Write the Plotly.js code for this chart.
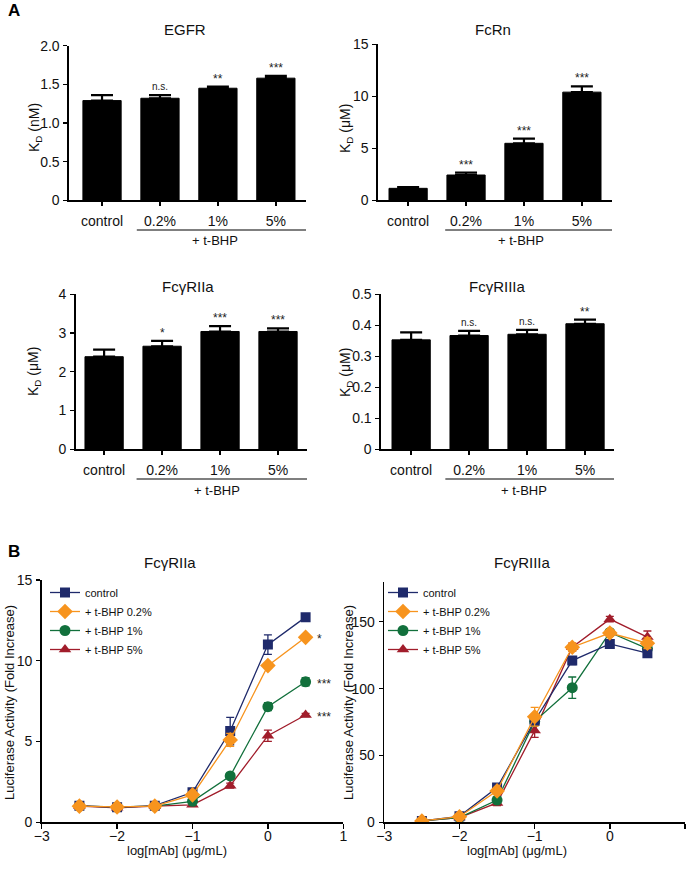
<!DOCTYPE html>
<html>
<head>
<meta charset="utf-8">
<script src="https://cdn.plot.ly/plotly-3.0.1.min.js"></script>
<style>html,body{margin:0;padding:0;background:#fff;}#chart{width:689px;height:877px;}</style>
</head>
<body>
<div id="chart"></div>
<script>
// ---------- DATA ----------
const categories = ['control', '0.2%', '1%', '5%'];

const egfrKd = [1.29, 1.32, 1.45, 1.58];
const egfrErr = [0.07, 0.04, 0.02, 0.03];
const egfrSig = ['', 'n.s.', '**', '***'];

const fcrnKd = [1.15, 2.43, 5.48, 10.4];
const fcrnErr = [0.12, 0.23, 0.45, 0.55];
const fcrnSig = ['', '***', '***', '***'];

const fcgr2aKd = [2.39, 2.66, 3.04, 3.04];
const fcgr2aErr = [0.18, 0.14, 0.14, 0.08];
const fcgr2aSig = ['', '*', '***', '***'];

const fcgr3aKd = [0.353, 0.367, 0.371, 0.405];
const fcgr3aErr = [0.024, 0.015, 0.014, 0.013];
const fcgr3aSig = ['', 'n.s.', 'n.s.', '**'];

const logDose = [-2.5, -2, -1.5, -1, -0.5, 0, 0.5];
const seriesNames = ['control', '+ t-BHP 0.2%', '+ t-BHP 1%', '+ t-BHP 5%'];

const luc2aControl = [1.03, 0.93, 1.03, 1.86, 5.65, 11.0, 12.7];
const luc2aControlErr = [0.1, 0.1, 0.1, 0.15, 0.85, 0.6, 0.15];
const luc2a02 = [1.0, 0.95, 1.0, 1.7, 5.1, 9.7, 11.45];
const luc2a02Err = [0.1, 0.1, 0.1, 0.15, 0.4, 0.15, 0.15];
const luc2a1 = [1.0, 0.95, 1.0, 1.3, 2.87, 7.16, 8.7];
const luc2a1Err = [0.05, 0.05, 0.05, 0.1, 0.15, 0.25, 0.25];
const luc2a5 = [1.0, 0.9, 1.0, 1.08, 2.27, 5.36, 6.64];
const luc2a5Err = [0.05, 0.05, 0.05, 0.1, 0.15, 0.35, 0.1];
const luc2aSig = ['', '*', '***', '***'];

const luc3aControl = [1, 4.5, 26, 76, 121, 133.4, 126.5];
const luc3aControlErr = [0.5, 1, 2, 3, 3, 2, 2];
const luc3a02 = [1, 4.2, 23.5, 79, 131, 141.6, 134];
const luc3a02Err = [0.5, 1, 2, 7, 3, 2, 4];
const luc3a1 = [1, 3.5, 16.6, 75.5, 100.7, 142, 130];
const luc3a1Err = [0.5, 1, 2, 3, 8, 2, 3];
const luc3a5 = [1, 3.5, 14.5, 68.6, 131, 152, 138.6];
const luc3a5Err = [0.5, 1, 2, 5, 3, 2, 4.5];

const colors = ['#1f2a6b', '#f7941e', '#12703c', '#a11d2b'];
const symbols = ['square', 'diamond', 'circle', 'triangle-up'];
const markerSizes = [10, 12, 11, 11];

// ---------- LAYOUT HELPERS ----------
const W = 689, H = 877;
const FONT = 'Liberation Sans Narrow, Arial Narrow, Liberation Sans, Arial, sans-serif';
const xd = (a, b) => [a / W, b / W];
const yd = (top, bottom) => [1 - bottom / H, 1 - top / H];
const px = (x) => x / W;
const py = (y) => 1 - y / H;

const traces = [];
const annotations = [];
const shapes = [];

function barPanel(idx, vals, errs, sig) {
  const xa = 'x' + (idx === 1 ? '' : idx), ya = 'y' + (idx === 1 ? '' : idx);
  traces.push({
    type: 'bar', x: categories, y: vals, xaxis: xa, yaxis: ya,
    width: 0.66, showlegend: false,
    marker: {color: '#000', line: {color: '#000', width: 1}},
    error_y: {type: 'data', array: errs, arrayminus: errs.map(() => 0), symmetric: false,
              color: '#000', thickness: 2.2, width: 11}
  });
  sig.forEach((s, i) => {
    if (!s) return;
    annotations.push({
      xref: xa, yref: ya, x: categories[i], y: vals[i] + errs[i], text: s,
      showarrow: false, yanchor: 'bottom', yshift: s === 'n.s.' ? 1 : -1,
      font: {family: FONT, size: s === 'n.s.' ? 10 : 12, color: '#222'}
    });
  });
}

barPanel(1, egfrKd, egfrErr, egfrSig);
barPanel(2, fcrnKd, fcrnErr, fcrnSig);
barPanel(3, fcgr2aKd, fcgr2aErr, fcgr2aSig);
barPanel(4, fcgr3aKd, fcgr3aErr, fcgr3aSig);

const lucA = [[luc2aControl, luc2aControlErr], [luc2a02, luc2a02Err], [luc2a1, luc2a1Err], [luc2a5, luc2a5Err]];
const lucB = [[luc3aControl, luc3aControlErr], [luc3a02, luc3a02Err], [luc3a1, luc3a1Err], [luc3a5, luc3a5Err]];

// draw order so that orange is on top as in the reference
const order = [3, 2, 0, 1];
function curvePanel(idx, data, legendName) {
  const xa = 'x' + idx, ya = 'y' + idx;
  order.forEach(k => {
    traces.push({
      type: 'scatter', mode: 'lines+markers', x: logDose, y: data[k][0],
      xaxis: xa, yaxis: ya, name: seriesNames[k], legend: legendName,
      legendrank: k + 1,
      line: {color: colors[k], width: 1.3},
      marker: {color: colors[k], symbol: symbols[k], size: markerSizes[k]},
      error_y: {type: 'data', array: data[k][1], color: colors[k], thickness: 1.3, width: 4}
    });
  });
}
curvePanel(5, lucA, 'legend');
curvePanel(6, lucB, 'legend2');

// significance stars for panel B left
[luc2a02, luc2a1, luc2a5].forEach((arr, j) => {
  annotations.push({
    xref: 'x5', yref: 'y5', x: logDose[6], y: arr[6], text: luc2aSig[j + 1],
    showarrow: false, xanchor: 'left', xshift: 9, yshift: -2,
    font: {family: FONT, size: 12, color: '#222'}
  });
});

// ---------- AXES ----------
const baseAxis = {
  showline: true, linecolor: '#000', linewidth: 1.6, ticks: 'outside', ticklen: 4,
  tickwidth: 1.4, tickcolor: '#000', showgrid: false, zeroline: false,
  tickfont: {family: FONT, size: 14, color: '#111'}, fixedrange: true
};
function catX(domain, range, anchor) {
  return Object.assign({}, baseAxis, {domain: domain, range: range, anchor: anchor,
    type: 'category', ticklabelstandoff: 3});
}
function numY(domain, range, tickvals, ticktext, anchor) {
  return Object.assign({}, baseAxis, {domain: domain, range: range, anchor: anchor,
    tickvals: tickvals, ticktext: ticktext, ticklabelstandoff: 1});
}

const layout = {
  width: W, height: H, margin: {l: 0, r: 0, t: 0, b: 0},
  paper_bgcolor: '#fff', plot_bgcolor: 'rgba(0,0,0,0)', showlegend: true,
  font: {family: FONT, color: '#111'},
  bargap: 0.3,
  xaxis: catX(xd(69, 306), [-0.57, 3.52], 'y'),
  yaxis: numY(yd(45.7, 200.3), [0, 2], [0, 0.5, 1, 1.5, 2], ['0', '0.5', '1.0', '1.5', '2.0'], 'x'),
  xaxis2: catX(xd(378, 612), [-0.52, 3.52], 'y2'),
  yaxis2: numY(yd(44.3, 200.3), [0, 15], [0, 5, 10, 15], ['0', '5', '10', '15'], 'x2'),
  xaxis3: catX(xd(75.7, 307), [-0.49, 3.5], 'y3'),
  yaxis3: numY(yd(294.3, 449.3), [0, 4], [0, 1, 2, 3, 4], ['0', '1', '2', '3', '4'], 'x3'),
  xaxis4: catX(xd(381, 614), [-0.52, 3.5], 'y4'),
  yaxis4: numY(yd(294.3, 449.3), [0, 0.5], [0, 0.1, 0.2, 0.3, 0.4, 0.5], ['0', '0.1', '0.2', '0.3', '0.4', '0.5'], 'x4'),
  xaxis5: Object.assign({}, baseAxis, {domain: xd(41.7, 343.3), range: [-3, 1], anchor: 'y5',
    tickvals: [-3, -2, -1, 0, 1], ticklen: 5, ticklabelstandoff: -5}),
  yaxis5: numY(yd(580, 822.3), [0, 15], [0, 5, 10, 15], ['0', '5', '10', '15'], 'x5'),
  xaxis6: Object.assign({}, baseAxis, {domain: xd(384.3, 685), range: [-3, 1], anchor: 'y6',
    tickvals: [-3, -2, -1, 0, 1], ticklen: 5, ticklabelstandoff: -5}),
  yaxis6: numY(yd(581.7, 822.3), [0, 180], [0, 50, 100, 150], ['0', '50', '100', '150'], 'x6'),
  legend: {x: px(45), y: py(578), xanchor: 'left', yanchor: 'top', bgcolor: 'rgba(0,0,0,0)',
    font: {family: FONT, size: 11, color: '#111'}, tracegroupgap: 0, traceorder: 'normal'},
  legend2: {x: px(383), y: py(578), xanchor: 'left', yanchor: 'top', bgcolor: 'rgba(0,0,0,0)',
    font: {family: FONT, size: 11, color: '#111'}, tracegroupgap: 0, traceorder: 'normal'},
  annotations: annotations,
  shapes: shapes
};

function txt(x, y, text, size, opts) {
  annotations.push(Object.assign({xref: 'paper', yref: 'paper', x: px(x), y: py(y), text: text,
    showarrow: false, xanchor: 'center', yanchor: 'middle',
    font: {family: FONT, size: size, color: '#111'}}, opts || {}));
}

// panel letters
txt(14, 11, '<b>A</b>', 17, {font: {family: 'Liberation Sans, Arial, sans-serif', size: 17, color: '#000'}});
txt(14, 551, '<b>B</b>', 17, {font: {family: 'Liberation Sans, Arial, sans-serif', size: 17, color: '#000'}});

// subplot titles
txt(185, 30, 'EGFR', 15);
txt(493, 30, 'FcRn', 15);
txt(188, 287, 'FcγRIIa', 15);
txt(497, 287, 'FcγRIIIa', 15);
txt(170, 562, 'FcγRIIa', 15);
txt(522, 562, 'FcγRIIIa', 15);

// y-axis titles
txt(35, 128, 'K<sub>D</sub> (nM)', 14, {textangle: -90});
txt(346, 128, 'K<sub>D</sub> (μM)', 14, {textangle: -90});
txt(34, 372, 'K<sub>D</sub> (μM)', 14, {textangle: -90});
txt(346, 372, 'K<sub>D</sub> (μM)', 14, {textangle: -90});
txt(9, 703, 'Luciferase Activity (Fold Increase)', 13, {textangle: -90});
txt(348, 703, 'Luciferase Activity (Fold Increase)', 13, {textangle: -90});

// x-axis titles
txt(177, 850, 'log[mAb] (μg/mL)', 13);
txt(517, 850, 'log[mAb] (μg/mL)', 13);

// "+ t-BHP" brackets
const brackets = [
  {xa: 'x', x0: 0.6, x1: 3.52, y: 230, ty: 240},
  {xa: 'x2', x0: 0.64, x1: 3.57, y: 230, ty: 240},
  {xa: 'x3', x0: 0.56, x1: 3.5, y: 479, ty: 490},
  {xa: 'x4', x0: 0.59, x1: 3.5, y: 479, ty: 490}
];
brackets.forEach(b => {
  shapes.push({type: 'line', xref: b.xa, yref: 'paper', x0: b.x0, x1: b.x1, y0: py(b.y), y1: py(b.y),
    line: {color: '#000', width: 1.2}});
  annotations.push({xref: b.xa, yref: 'paper', x: 1.95, y: py(b.ty), text: '+ t-BHP', showarrow: false,
    xanchor: 'center', yanchor: 'middle', font: {family: FONT, size: 13, color: '#111'}});
});

Plotly.newPlot('chart', traces, layout, {staticPlot: true});
</script>
</body>
</html>
